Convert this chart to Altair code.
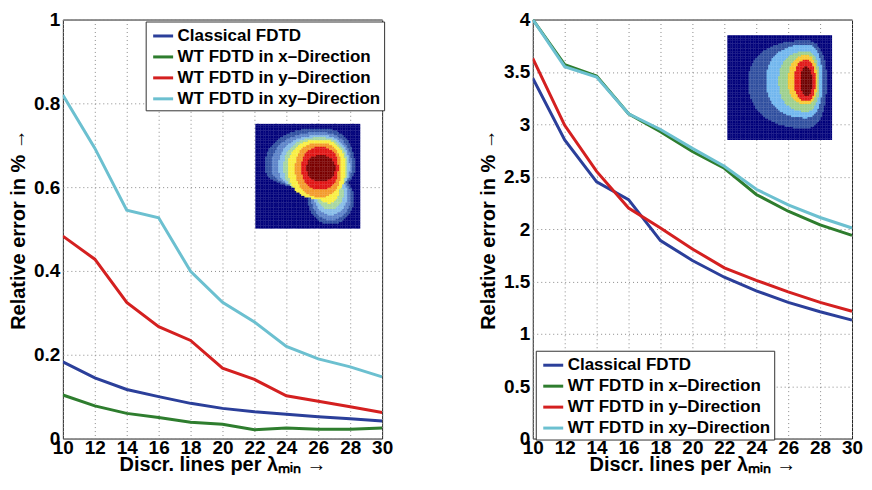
import altair as alt
import pandas as pd

# ---------------- data ----------------
x_vals = [10, 12, 14, 16, 18, 20, 22, 24, 26, 28, 30]
series = ["Classical FDTD", "WT FDTD in x–Direction", "WT FDTD in y–Direction", "WT FDTD in xy–Direction"]
colors = ["#2b3f9a", "#2e7d2e", "#d42020", "#6cc0d0"]

left_classical = [0.183, 0.145, 0.117, 0.100, 0.084, 0.072, 0.064, 0.058, 0.052, 0.047, 0.042]
left_x = [0.104, 0.078, 0.060, 0.050, 0.039, 0.034, 0.021, 0.025, 0.022, 0.022, 0.025]
left_y = [0.483, 0.428, 0.325, 0.267, 0.234, 0.168, 0.141, 0.102, 0.089, 0.076, 0.062]
left_xy = [0.820, 0.693, 0.545, 0.527, 0.399, 0.325, 0.278, 0.220, 0.190, 0.171, 0.147]

right_classical = [3.44, 2.85, 2.45, 2.28, 1.89, 1.70, 1.54, 1.41, 1.30, 1.21, 1.13]
right_x = [4.00, 3.57, 3.46, 3.10, 2.93, 2.74, 2.58, 2.33, 2.17, 2.04, 1.94]
right_y = [3.63, 2.99, 2.55, 2.20, 2.01, 1.81, 1.63, 1.51, 1.40, 1.30, 1.215]
right_xy = [4.00, 3.55, 3.45, 3.10, 2.95, 2.77, 2.60, 2.38, 2.23, 2.11, 2.01]

left_yticks = [0, 0.2, 0.4, 0.6, 0.8, 1]
right_yticks = [0, 0.5, 1, 1.5, 2, 2.5, 3, 3.5, 4]

# inset contour images (field-map thumbnails), contour extents
left_pal = ["#00007a", "#2f4fa0", "#5b82c8", "#86bce8", "#a6d6a0", "#f8ee40", "#f39a2a", "#e01414", "#7a0000"]
left_center = (0.62, 0.42)
left_levels = [(0.09, 0.95, 0.04, 0.62), (0.15, 0.92, 0.08, 0.62), (0.22, 0.90, 0.11, 0.64),
               (0.27, 0.88, 0.13, 0.68), (0.31, 0.86, 0.15, 0.72), (0.38, 0.82, 0.18, 0.70),
               (0.44, 0.79, 0.22, 0.63), (0.49, 0.76, 0.30, 0.55)]
left_lobes = [(0.72, 0.72, 0.22, 0.24), (0.72, 0.70, 0.19, 0.22), (0.72, 0.68, 0.16, 0.19),
              (0.71, 0.66, 0.13, 0.16), (0.70, 0.64, 0.10, 0.12)]
left_box = (22.06, 28.63, 0.501, 0.751)

right_pal = ["#00007a", "#2f4e9e", "#70b6ee", "#9ccf8e", "#f8c830", "#e01818", "#6e0000"]
right_center = (0.755, 0.44)
right_levels = [(0.20, 0.95, 0.05, 0.89), (0.37, 0.91, 0.09, 0.79), (0.49, 0.88, 0.155, 0.73),
                (0.58, 0.86, 0.19, 0.66), (0.64, 0.84, 0.235, 0.63), (0.70, 0.81, 0.30, 0.58)]
right_lobes = []
right_box = (22.19, 28.75, 2.85, 3.85)


def inset_cells(box, center, levels, lobes, pal, n=64, p=2.3):
    x0, x1, y0, y1 = box
    cu, cv = center
    rows = []
    for i in range(n):
        for j in range(n):
            u = (i + 0.5) / n
            v = (j + 0.5) / n
            lev = 0
            for k, (L, R, T, B) in enumerate(levels):
                au = (cu - L) if u < cu else (R - cu)
                av = (cv - T) if v < cv else (B - cv)
                inside = (abs(u - cu) / au) ** p + (abs(v - cv) / av) ** p <= 1
                if not inside and k < len(lobes):
                    lu, lv, la, lb = lobes[k]
                    inside = ((u - lu) / la) ** 2 + ((v - lv) / lb) ** 2 <= 1
                if inside:
                    lev = k + 1
            rows.append(dict(
                x=x0 + (x1 - x0) * i / n,
                x2=x0 + (x1 - x0) * min(i + 1.15, n) / n,
                y=y1 - (y1 - y0) * j / n,
                y2=y1 - (y1 - y0) * min(j + 1.15, n) / n,
                c=pal[lev]))
    return pd.DataFrame(rows)


FONT = "Liberation Sans"
xtitle = "Discr. lines per λₘᵢₙ →"
ytitle = "Relative error in % →"


def panel(vals, ydomain, yticks, inset_df, lx, ly):
    recs = []
    for s, arr in zip(series, vals):
        for xv, yv in zip(x_vals, arr):
            recs.append(dict(x=xv, y=yv, series=s))
    df = pd.DataFrame(recs)
    xscale = alt.Scale(domain=[10, 30], nice=False, zero=False)
    yscale = alt.Scale(domain=ydomain, nice=False)
    xaxis = alt.Axis(values=x_vals, title=xtitle, format="d", labelPadding=0,
                     titlePadding=-3, labelFlush=False)
    yaxis = alt.Axis(values=yticks, title=ytitle, format="~g", labelPadding=3, titlePadding=5)
    lines = alt.Chart(df).mark_line(strokeWidth=3, clip=True).encode(
        x=alt.X("x:Q", scale=xscale, axis=xaxis),
        y=alt.Y("y:Q", scale=yscale, axis=yaxis),
        color=alt.Color("series:N", sort=series,
                        scale=alt.Scale(domain=series, range=colors),
                        legend=alt.Legend(orient="none", legendX=lx, legendY=ly, title=None,
                                          symbolType="stroke", symbolStrokeWidth=3, symbolSize=400,
                                          symbolOffset=3,
                                          labelFont=FONT, labelFontWeight="bold", labelFontSize=17,
                                          labelColor="black", labelLimit=400, labelOffset=3,
                                          rowPadding=1, padding=3, strokeColor="#333333",
                                          fillColor="white")),
    )
    inset = alt.Chart(inset_df).mark_rect(strokeWidth=0).encode(
        x=alt.X("x:Q", scale=xscale, axis=xaxis),
        x2="x2:Q",
        y=alt.Y("y:Q", scale=yscale, axis=yaxis),
        y2="y2:Q",
        fill=alt.Fill("c:N", scale=None),
    )
    return alt.layer(lines, inset).properties(width=320, height=420)


left = panel([left_classical, left_x, left_y, left_xy], [0, 1], left_yticks,
             inset_cells(left_box, left_center, left_levels, left_lobes, left_pal), 83, 2)
right = panel([right_classical, right_x, right_y, right_xy], [0, 4], right_yticks,
              inset_cells(right_box, right_center, right_levels, right_lobes, right_pal), 3, 332)

chart = alt.hconcat(left, right, spacing=84).resolve_scale(color="independent").resolve_legend(
    color="independent"
).properties(
    padding={"left": 0, "top": 1, "right": 0, "bottom": 0}, background="white"
).configure_view(
    stroke="#222222", strokeWidth=1
).configure_axis(
    labelFont=FONT, labelFontWeight="bold", labelFontSize=19, labelColor="black",
    titleFont=FONT, titleFontWeight="bold", titleFontSize=20, titleColor="black",
    ticks=False, domain=False, grid=True, gridColor="#8a8a8a", gridDash=[1, 3], gridWidth=1,
)

chart.save("out.html", embed_options={"renderer": "svg", "actions": False})
